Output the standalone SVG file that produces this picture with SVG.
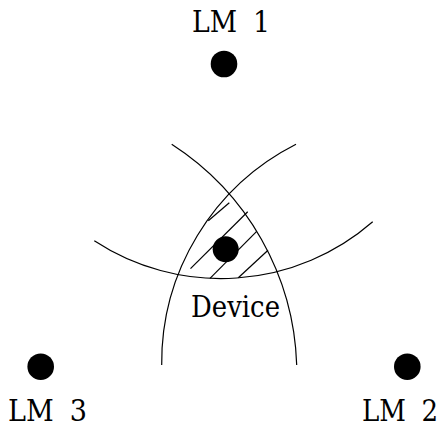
<svg xmlns="http://www.w3.org/2000/svg" width="446" height="429" viewBox="0 0 446 429">
<style>
text{font-family:"DejaVu Serif",serif;font-size:29px;fill:#000}
.arc{fill:none;stroke:#000;stroke-width:1.2}
.hatch{fill:none;stroke:#000;stroke-width:1.2}
.dot{fill:#000}
</style>
<rect width="446" height="429" fill="#fff"/>
<g id="connectors">
<path class="arc" d="M94.3,240.7 A231,231 0 0,0 372.7,221.7"/>
<path class="arc" d="M296,144.3 A245,245 0 0,0 161.7,365"/>
<path class="arc" d="M171.7,144.3 A273,273 0 0,1 296.7,365"/>
<g id="hatching">
<line class="hatch" x1="208.3" y1="220.7" x2="229.3" y2="202.7"/>
<line class="hatch" x1="190.5" y1="268.6" x2="247.7" y2="211.8"/>
<line class="hatch" x1="210" y1="278.3" x2="256.7" y2="231.3"/>
<line class="hatch" x1="238.3" y1="277.8" x2="268" y2="250.3"/>
</g>
</g>
<g id="lm1">
<circle class="dot" cx="224" cy="64" r="13.3"/>
<text x="192" y="32" word-spacing="8" textLength="78" lengthAdjust="spacingAndGlyphs">LM 1</text>
</g>
<g id="lm2">
<circle class="dot" cx="407.3" cy="366.7" r="13.3"/>
<text x="362" y="421" word-spacing="8" textLength="76" lengthAdjust="spacingAndGlyphs">LM 2</text>
</g>
<g id="lm3">
<circle class="dot" cx="40.7" cy="366.7" r="13.3"/>
<text x="8" y="421" word-spacing="8" textLength="79" lengthAdjust="spacingAndGlyphs">LM 3</text>
</g>
<g id="device">
<circle class="dot" cx="225.7" cy="249.3" r="13"/>
<text x="191" y="317" textLength="89" lengthAdjust="spacingAndGlyphs">Device</text>
</g>
</svg>
